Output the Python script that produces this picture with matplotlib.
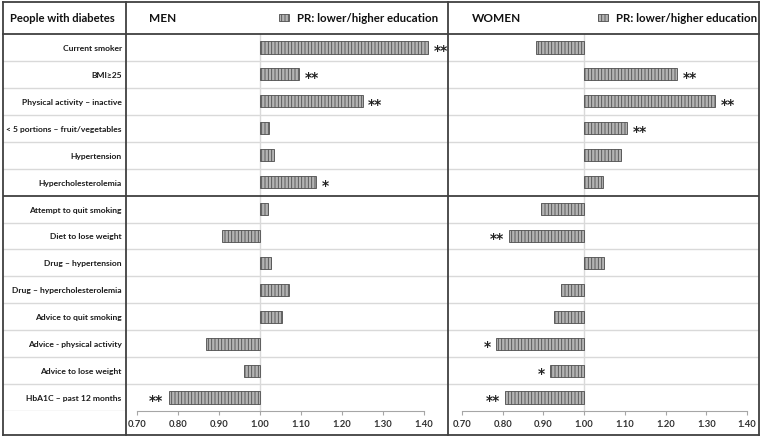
import matplotlib
matplotlib.use("Agg")
import matplotlib.pyplot as plt
from matplotlib.lines import Line2D

# data
labels = [
    "Current smoker",
    "BMI\u226525",
    "Physical activity \u2013 inactive",
    "< 5 portions \u2013 fruit/vegetables",
    "Hypertension",
    "Hypercholesterolemia",
    "Attempt to quit smoking",
    "Diet to lose weight",
    "Drug \u2013 hypertension",
    "Drug \u2013 hypercholesterolemia",
    "Advice to quit smoking",
    "Advice - physical activity",
    "Advice to lose weight",
    "HbA1C \u2013 past 12 months",
]
men_pr = [1.41, 1.095, 1.25, 1.022, 1.034, 1.136, 1.02, 0.907, 1.026, 1.071, 1.053, 0.868, 0.962, 0.778]
women_pr = [0.882, 1.228, 1.321, 1.105, 1.09, 1.047, 0.895, 0.816, 1.049, 0.944, 0.927, 0.784, 0.917, 0.806]
men_sig = ["**", "**", "**", "", "", "*", "", "", "", "", "", "", "", "**"]
women_sig = ["", "**", "**", "**", "", "", "", "**", "", "", "", "*", "*", "**"]
ticks = [0.70, 0.80, 0.90, 1.00, 1.10, 1.20, 1.30, 1.40]
legend_label = "PR: lower/higher education"
n_first_block = 6

W, H = 764, 439
DARK = "#404040"
GRID = "#d9d9d9"

plt.rcParams["font.family"] = ["Lato", "DejaVu Sans"]
plt.rcParams["hatch.linewidth"] = 0.6


def fx(px):
    return px / W


def fy(py):
    return 1 - py / H


def draw_panel(ax, values, sig, xlim):
    n = len(values)
    ys = list(range(n))
    bars = ax.barh(ys, [v - 1 for v in values], left=1.0, height=0.45,
                   color="#b3b3b3", edgecolor="#4d4d4d", linewidth=0.6,
                   hatch="|||||", zorder=3)
    ax.set_xlim(*xlim)
    ax.set_ylim(n - 0.5, -0.5)
    for i in range(n - 1):
        if i == n_first_block - 1:
            ax.axhline(i + 0.5, color=DARK, lw=1.3, zorder=4)
        else:
            ax.axhline(i + 0.5, color=GRID, lw=1.0, zorder=1)
    ax.axvline(1.0, color=GRID, lw=1.0, zorder=1)
    for v, s, y in zip(values, sig, ys):
        if not s:
            continue
        right = v >= 1
        ax.annotate(s, (v, y), xytext=(4 if right else -4, -1.8),
                    textcoords="offset points", ha="left" if right else "right",
                    va="center", fontsize=10, fontweight="bold", color="#222222",
                    family="DejaVu Sans")
    for side in ["top", "left", "right"]:
        ax.spines[side].set_visible(False)
    ax.spines["bottom"].set_bounds(ticks[0], ticks[-1])
    ax.spines["bottom"].set_color("#a6a6a6")
    ax.set_yticks([])
    ax.set_xticks(ticks)
    ax.set_xticklabels([f"{t:.2f}" for t in ticks], fontsize=6.8, fontweight="bold", color="#333333")
    ax.tick_params(axis="x", length=3, color="#a6a6a6", pad=3)
    ax.patch.set_alpha(0)
    return bars


def main():
    fig = plt.figure(figsize=(W / 100, H / 100), dpi=100)
    top, bot = 35, 412
    n = len(labels)

    lab_ax = fig.add_axes([fx(3), fy(bot), fx(126) - fx(3), fy(top) - fy(bot)])
    lab_ax.set_xlim(0, 1)
    lab_ax.set_ylim(n - 0.5, -0.5)
    lab_ax.axis("off")
    for i in range(n):
        if i == n_first_block - 1:
            lab_ax.axhline(i + 0.5, color=DARK, lw=1.3)
        else:
            lab_ax.axhline(i + 0.5, color=GRID, lw=1.0)
    for i, lab in enumerate(labels):
        lab_ax.text(0.965, i, lab, ha="right", va="center", fontsize=6.1, fontweight="bold", color="#1a1a1a")

    men_ax = fig.add_axes([fx(126), fy(bot), fx(448) - fx(126), fy(top) - fy(bot)])
    bars = draw_panel(men_ax, men_pr, men_sig, (0.70 - 11 / 410, 1.40 + 24 / 410))

    wom_ax = fig.add_axes([fx(448), fy(bot), fx(759) - fx(448), fy(top) - fy(bot)])
    draw_panel(wom_ax, women_pr, women_sig, (0.70 - 14 / 407, 1.40 + 12 / 407))

    # table borders
    lines = [
        ([3, 759], [3, 3]), ([3, 759], [436, 436]), ([3, 3], [3, 436]), ([759, 759], [3, 436]),
        ([3, 759], [top, top]), ([126, 126], [3, 436]), ([448, 448], [3, 436]),
    ]
    for xs, ys in lines:
        fig.add_artist(Line2D([fx(x) for x in xs], [fy(y) for y in ys], color=DARK, lw=1.3))

    # header
    fig.text(fx(10), fy(19), "People with diabetes", ha="left", va="center", fontsize=8.1, fontweight="bold", color="#111111")
    fig.text(fx(149), fy(19), "MEN", ha="left", va="center", fontsize=8.5, fontweight="bold", color="#111111")
    fig.text(fx(472), fy(19), "WOMEN", ha="left", va="center", fontsize=8.5, fontweight="bold", color="#111111")
    for x0 in [279, 598]:
        fig.legend([bars], [legend_label], loc="center left", bbox_to_anchor=(fx(x0), fy(19)),
                   frameon=False, borderpad=0, borderaxespad=0, handlelength=0.9, handleheight=0.6,
                   handletextpad=0.7, prop={"size": 8.3, "weight": "bold"}, labelcolor="#111111")

    fig.savefig("out.png", dpi=100)
    plt.close(fig)


if __name__ == "__main__":
    main()
